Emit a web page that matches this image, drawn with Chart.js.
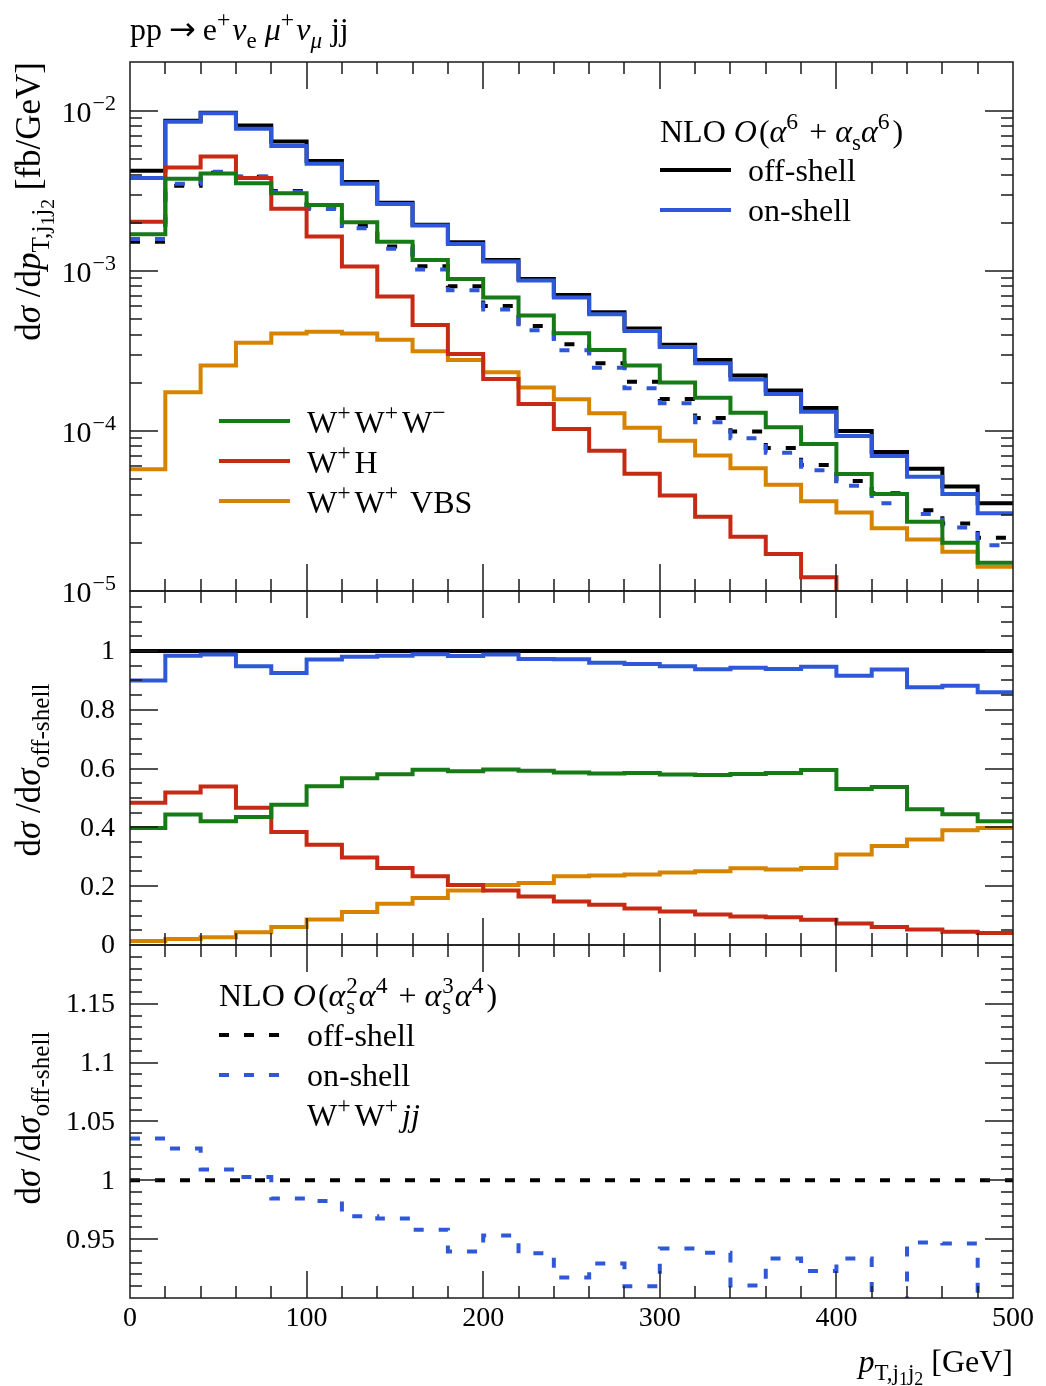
<!DOCTYPE html>
<html><head><meta charset="utf-8">
<script src="https://cdn.jsdelivr.net/npm/chart.js@4.4.1/dist/chart.umd.min.js"></script>
<style>
html,body{margin:0;padding:0;background:#fff;}
#wrap{position:relative;width:1046px;height:1386px;overflow:hidden;background:#fff;}
canvas{position:absolute;left:0;}
</style></head><body>
<div id="wrap">
<canvas id="cA" width="1046" height="615" style="top:0px"></canvas>
<canvas id="cB" width="1046" height="405" style="top:565px"></canvas>
<canvas id="cC" width="1046" height="466" style="top:920px"></canvas>
</div>
<script>
// ---------- data ----------
const binEdges = [0,20,40,60,80,100,120,140,160,180,200,220,240,260,280,300,320,340,360,380,400,420,440,460,480,500];

// top panel: dsigma/dpT [fb/GeV], NLO O(a^6 + as a^6)
const offShell = [4.22e-3,8.66e-3,9.72e-3,8.09e-3,6.43e-3,4.87e-3,3.60e-3,2.67e-3,1.94e-3,1.51e-3,1.172e-3,8.91e-4,7.08e-4,5.52e-4,4.36e-4,3.46e-4,2.78e-4,2.22e-4,1.79e-4,1.39e-4,1.00e-4,7.39e-5,5.81e-5,4.49e-5,3.53e-5];
const onShell  = [3.81e-3,8.54e-3,9.67e-3,7.72e-3,6.04e-3,4.67e-3,3.50e-3,2.62e-3,1.92e-3,1.475e-3,1.143e-3,8.70e-4,6.81e-4,5.36e-4,4.22e-4,3.35e-4,2.65e-4,2.10e-4,1.70e-4,1.32e-4,9.31e-5,6.98e-5,5.18e-5,4.04e-5,3.06e-5];
const wwwVals  = [1.696e-3,3.76e-3,4.06e-3,3.53e-3,3.06e-3,2.58e-3,2.015e-3,1.524e-3,1.168e-3,8.91e-4,6.81e-4,5.26e-4,4.08e-4,3.21e-4,2.56e-4,2.01e-4,1.614e-4,1.30e-4,1.054e-4,8.29e-5,5.38e-5,4.04e-5,2.71e-5,2.00e-5,1.50e-5];
const whVals   = [2.03e-3,4.42e-3,5.18e-3,3.80e-3,2.45e-3,1.639e-3,1.064e-3,6.91e-4,4.60e-4,3.03e-4,2.11e-4,1.475e-4,1.029e-4,7.53e-5,5.41e-5,3.95e-5,2.91e-5,2.18e-5,1.70e-5,1.22e-5,7.3e-6,4.5e-6,3.1e-6,2.0e-6,1.45e-6];
const vbsVals  = [5.77e-5,1.746e-4,2.56e-4,3.56e-4,4.06e-4,4.16e-4,4.06e-4,3.71e-4,3.15e-4,2.78e-4,2.33e-4,1.866e-4,1.579e-4,1.29e-4,1.049e-4,8.70e-5,7.03e-5,5.85e-5,4.62e-5,3.64e-5,3.09e-5,2.47e-5,2.10e-5,1.76e-5,1.42e-5];
// NLO O(as^2 a^4 + as^3 a^4), W+W+jj
const qcdOff   = [1.524e-3,3.40e-3,4.11e-3,3.87e-3,3.16e-3,2.49e-3,1.91e-3,1.419e-3,1.069e-3,8.02e-4,6.04e-4,4.53e-4,3.48e-4,2.65e-4,2.03e-4,1.585e-4,1.205e-4,9.91e-5,7.83e-5,6.13e-5,4.87e-5,4.08e-5,3.19e-5,2.64e-5,2.15e-5];
const qcdOn    = [1.585e-3,3.50e-3,4.16e-3,3.89e-3,3.12e-3,2.44e-3,1.85e-3,1.378e-3,1.019e-3,7.57e-4,5.73e-4,4.26e-4,3.19e-4,2.48e-4,1.85e-4,1.49e-4,1.133e-4,9.0e-5,7.32e-5,5.68e-5,4.55e-5,3.53e-5,3.03e-5,2.49e-5,1.93e-5];

// middle panel: ratios to off-shell (EW)
const ratioOff = [1,1,1,1,1,1,1,1,1,1,1,1,1,1,1,1,1,1,1,1,1,1,1,1,1];
const ratioOn  = [0.900,0.984,0.988,0.948,0.925,0.971,0.980,0.984,0.989,0.983,0.988,0.973,0.972,0.960,0.956,0.948,0.938,0.943,0.939,0.946,0.916,0.937,0.877,0.882,0.860];
const ratioWWW = [0.398,0.444,0.421,0.435,0.477,0.540,0.567,0.581,0.596,0.591,0.597,0.593,0.587,0.583,0.585,0.580,0.578,0.582,0.585,0.595,0.531,0.537,0.462,0.445,0.421];
const ratioWH  = [0.484,0.519,0.539,0.467,0.384,0.341,0.298,0.262,0.234,0.204,0.185,0.165,0.148,0.137,0.124,0.114,0.104,0.097,0.094,0.086,0.073,0.061,0.053,0.045,0.041];
const ratioVBS = [0.014,0.020,0.026,0.043,0.061,0.087,0.112,0.140,0.160,0.185,0.204,0.211,0.234,0.236,0.240,0.247,0.251,0.261,0.257,0.262,0.308,0.337,0.359,0.390,0.398];

// bottom panel: ratios to off-shell (QCD)
const qcdRatioOff = [1,1,1,1,1,1,1,1,1,1,1,1,1,1,1,1,1,1,1,1,1,1,1,1,1];
const qcdRatioOn  = [1.0356,1.0271,1.0093,1.0028,0.9845,0.9825,0.9695,0.9675,0.958,0.9396,0.9531,0.938,0.9175,0.9294,0.9099,0.9421,0.9384,0.9107,0.9336,0.9229,0.9336,0.865,0.9472,0.9463,0.895];

// tick labels
const xTickValues = [0,100,200,300,400,500];
const xTickLabels = ['0','100','200','300','400','500'];
const topTickValues = [1e-5,1e-4,1e-3,1e-2];
const topTickExps = ['−5','−4','−3','−2'];
const midTickValues = [0,0.2,0.4,0.6,0.8,1];
const midTickLabels = ['0','0.2','0.4','0.6','0.8','1'];
const botTickValues = [0.95,1,1.05,1.1,1.15];
const botTickLabels = ['0.95','1','1.05','1.1','1.15'];

// ---------- styling ----------
const SERIF = '"Liberation Serif","DejaVu Serif",serif';
const C_BLACK = '#000000', C_BLUE = '#2f58d8', C_GREEN = '#167a16', C_RED = '#c62a14', C_ORANGE = '#d68400';
const LW = 4;
const DASH = [10,15];

function stepPoints(vals){
  return binEdges.map((x,i)=>({x:x, y: vals[Math.min(i, vals.length-1)]}));
}
function ds(vals, color, dashed, order){
  return {data: stepPoints(vals), borderColor: color, borderWidth: LW, borderDash: dashed?DASH:[],
    borderCapStyle:'butt', borderJoinStyle:'miter', stepped:'before', pointRadius:0, fill:false, order:order, clip:0};
}

function fnt(size, it, fam){ return (it?'italic ':'') + size + 'px ' + (fam||SERIF); }
function drawRich(ctx, parts, x, y, size, align){
  const items=[]; let cx=0;
  for(const p of parts){
    if(p.ss){
      const fs=size*0.72; ctx.font=fnt(fs,false);
      const w1=ctx.measureText(p.sub).width, w2=ctx.measureText(p.sup).width;
      items.push({t:p.sub,x:cx+1,dy:size*0.25,fs:fs,i:false});
      items.push({t:p.sup,x:cx+1,dy:-size*0.40,fs:fs,i:false});
      cx+=Math.max(w1,w2)+2; continue;
    }
    let fs=size, dy=0;
    if(p.s===1){fs=size*0.74; dy=-size*0.40;}
    else if(p.s===-1){fs=size*0.72; dy=size*0.25;}
    else if(p.s===-2){fs=size*0.56; dy=size*0.40;}
    ctx.font=fnt(fs,p.i,p.f);
    items.push({t:p.t,x:cx+(p.pre||0),dy:dy,fs:fs,i:p.i,f:p.f});
    cx+=ctx.measureText(p.t).width+(p.pre||0)+(p.k||0);
  }
  const ox = align==='right'? x-cx : (align==='center'? x-cx/2 : x);
  ctx.textAlign='left'; ctx.textBaseline='alphabetic'; ctx.fillStyle='#000';
  for(const it of items){ ctx.font=fnt(it.fs,it.i,it.f); ctx.fillText(it.t, ox+it.x, y+it.dy); }
  return cx;
}
function drawRotated(ctx, parts, x, y, size, align){
  ctx.save(); ctx.translate(x,y); ctx.rotate(-Math.PI/2); drawRich(ctx, parts, 0, 0, size, align); ctx.restore();
}
function legendLine(ctx, x1, x2, y, color, dashed){
  ctx.save(); ctx.strokeStyle=color; ctx.lineWidth=LW; ctx.lineCap='butt';
  ctx.setLineDash(dashed?DASH:[]); ctx.beginPath(); ctx.moveTo(x1,y); ctx.lineTo(x2,y); ctx.stroke(); ctx.restore();
}
function yLabels(chart, values, labels){
  const ctx=chart.ctx, y=chart.scales.y;
  ctx.save(); ctx.fillStyle='#000'; ctx.font=fnt(28,false); ctx.textAlign='right'; ctx.textBaseline='middle';
  values.forEach((v,i)=>ctx.fillText(labels[i], 115, y.getPixelForValue(v)+1));
  ctx.restore();
}

function frameTicks(chart, yMajor, yMinor){
  const {ctx, chartArea:a, scales} = chart; const x=scales.x, y=scales.y;
  ctx.save(); ctx.strokeStyle='#1a1a1a'; ctx.lineWidth=1.5; ctx.setLineDash([]);
  ctx.beginPath();
  for(let v=20; v<500; v+=20){
    const px=Math.round(x.getPixelForValue(v));
    const L = (v%100===0)?27:12;
    ctx.moveTo(px,a.top); ctx.lineTo(px,a.top+L);
    ctx.moveTo(px,a.bottom); ctx.lineTo(px,a.bottom-L);
  }
  for(const v of yMajor){ const py=Math.round(y.getPixelForValue(v));
    if(py<=a.top+1||py>=a.bottom-1) continue;
    ctx.moveTo(a.left,py); ctx.lineTo(a.left+28,py); ctx.moveTo(a.right,py); ctx.lineTo(a.right-28,py); }
  for(const v of yMinor){ const py=Math.round(y.getPixelForValue(v));
    if(py<=a.top+1||py>=a.bottom-1) continue;
    ctx.moveTo(a.left,py); ctx.lineTo(a.left+12,py); ctx.moveTo(a.right,py); ctx.lineTo(a.right-12,py); }
  ctx.stroke();
  ctx.strokeRect(a.left, a.top, a.right-a.left, a.bottom-a.top);
  ctx.restore();
}

const xScaleHidden = {type:'linear', min:0, max:500, display:false};
function yAxisCommon(extra){
  return Object.assign({afterFit:(s)=>{s.width=130;}, grid:{display:false, drawTicks:false}, border:{display:false}, ticks:{display:false}}, extra);
}
const baseOpts = {responsive:false, animation:false, events:[], plugins:{legend:{display:false}, tooltip:{enabled:false}}};
const SANS = '"DejaVu Sans",sans-serif';

// ---------- top panel ----------
const logMinor=[]; for(let d=-5; d<=-2; d++){ for(let m=2;m<=9;m++){ logMinor.push(m*Math.pow(10,d)); } }
new Chart(document.getElementById('cA'), {
  type:'line',
  data:{datasets:[
    ds(offShell, C_BLACK, false, 9),
    ds(onShell, C_BLUE, false, 8),
    ds(qcdOff, C_BLACK, true, 7),
    ds(qcdOn, C_BLUE, true, 6),
    ds(vbsVals, C_ORANGE, false, 5),
    ds(whVals, C_RED, false, 4),
    ds(wwwVals, C_GREEN, false, 3)
  ]},
  options:Object.assign({}, baseOpts, {
    layout:{padding:{left:0, right:33, top:62, bottom:24}},
    scales:{ x: xScaleHidden, y: yAxisCommon({type:'logarithmic', min:1e-5, max:0.0202}) }
  }),
  plugins:[{id:'decoA',
    afterDatasetsDraw(chart){ frameTicks(chart, topTickValues, logMinor); },
    afterDraw(chart){
      const ctx=chart.ctx, y=chart.scales.y;
      topTickValues.forEach((v,i)=>{
        const py=y.getPixelForValue(v);
        ctx.save(); ctx.fillStyle='#000'; ctx.textBaseline='alphabetic';
        ctx.font=fnt(22,false); ctx.textAlign='right';
        const ew=ctx.measureText(topTickExps[i]).width;
        ctx.fillText(topTickExps[i], 116, py-1);
        ctx.font=fnt(30,false); ctx.fillText('10', 116-ew-1, py+11);
        ctx.restore();
      });
      // title
      drawRich(ctx,[{t:'pp'},{t:'→',f:SANS,pre:7,k:7},{t:'e'},{t:'+',s:1,k:2},{t:'ν',i:1},{t:'e',s:-1,k:8},{t:'μ',i:1},{t:'+',s:1,k:2},{t:'ν',i:1},{t:'μ',s:-1,i:1,k:9},{t:'jj'}],130,40,32,'left');
      // y title
      drawRotated(ctx,[{t:'d'},{t:'σ',i:1},{t:' /d'},{t:'p',i:1},{t:'T,j',s:-1},{t:'1',s:-2},{t:'j',s:-1},{t:'2',s:-2},{t:' [fb/GeV]'}],40,62,35,'right');
      // legend (upper right)
      drawRich(ctx,[{t:'NLO '},{t:'O',i:1,k:2},{t:'('},{t:'α',i:1},{t:'6',s:1,k:3},{t:' + '},{t:'α',i:1},{t:'s',s:-1},{t:'α',i:1},{t:'6',s:1,k:3},{t:')'}],660,142,32,'left');
      legendLine(ctx,660,731,170,C_BLACK,false); drawRich(ctx,[{t:'off-shell'}],748,181,32,'left');
      legendLine(ctx,660,731,210,C_BLUE,false);  drawRich(ctx,[{t:'on-shell'}],748,221,32,'left');
      // legend (lower left)
      legendLine(ctx,219,290,421,C_GREEN,false); drawRich(ctx,[{t:'W'},{t:'+',s:1,k:4},{t:'W'},{t:'+',s:1,k:4},{t:'W'},{t:'−',s:1}],307,433,32,'left');
      legendLine(ctx,219,290,461,C_RED,false);   drawRich(ctx,[{t:'W'},{t:'+',s:1,k:4},{t:'H'}],307,473,32,'left');
      legendLine(ctx,219,290,501,C_ORANGE,false);drawRich(ctx,[{t:'W'},{t:'+',s:1,k:4},{t:'W'},{t:'+',s:1,k:4},{t:' VBS'}],307,513,32,'left');
    }
  }]
});

// ---------- middle panel ----------
const midMinor=[]; for(let v=0.05; v<1.2; v+=0.05){ midMinor.push(+v.toFixed(2)); }
new Chart(document.getElementById('cB'), {
  type:'line',
  data:{datasets:[
    ds(ratioOff, C_BLACK, false, 9),
    ds(ratioOn, C_BLUE, false, 8),
    ds(ratioVBS, C_ORANGE, false, 5),
    ds(ratioWH, C_RED, false, 4),
    ds(ratioWWW, C_GREEN, false, 3)
  ]},
  options:Object.assign({}, baseOpts, {
    layout:{padding:{left:0, right:33, top:26, bottom:25}},
    scales:{ x: xScaleHidden, y: yAxisCommon({type:'linear', min:0, max:1.204}) }
  }),
  plugins:[{id:'decoB',
    afterDatasetsDraw(chart){ frameTicks(chart, midTickValues, midMinor); },
    afterDraw(chart){
      yLabels(chart, midTickValues, midTickLabels);
      drawRotated(chart.ctx,[{t:'d'},{t:'σ',i:1},{t:' /d'},{t:'σ',i:1},{t:'off-shell',s:-1}],40,770-565,35,'center');
    }
  }]
});

// ---------- bottom panel ----------
const botMinor=[]; for(let v=0.91; v<1.2; v+=0.01){ botMinor.push(+v.toFixed(2)); }
new Chart(document.getElementById('cC'), {
  type:'line',
  data:{datasets:[
    ds(qcdRatioOff, C_BLACK, true, 9),
    ds(qcdRatioOn, C_BLUE, true, 8)
  ]},
  options:Object.assign({}, baseOpts, {
    layout:{padding:{left:0, right:33, top:25, bottom:88}},
    scales:{ x: xScaleHidden, y: yAxisCommon({type:'linear', min:0.9, max:1.2}) }
  }),
  plugins:[{id:'decoC',
    afterDatasetsDraw(chart){ frameTicks(chart, botTickValues, botMinor); },
    afterDraw(chart){
      const ctx=chart.ctx, off=920, x=chart.scales.x, a=chart.chartArea;
      yLabels(chart, botTickValues, botTickLabels);
      ctx.save(); ctx.fillStyle='#000'; ctx.font=fnt(28,false); ctx.textAlign='center'; ctx.textBaseline='alphabetic';
      xTickValues.forEach((v,i)=>ctx.fillText(xTickLabels[i], x.getPixelForValue(v), a.bottom+28));
      ctx.restore();
      drawRotated(ctx,[{t:'d'},{t:'σ',i:1},{t:' /d'},{t:'σ',i:1},{t:'off-shell',s:-1}],40,1118-off,35,'center');
      drawRich(ctx,[{t:'p',i:1},{t:'T,j',s:-1},{t:'1',s:-2},{t:'j',s:-1},{t:'2',s:-2},{t:' [GeV]'}],1013,1372-off,32,'right');
      drawRich(ctx,[{t:'NLO '},{t:'O',i:1,k:2},{t:'('},{t:'α',i:1},{ss:1,sub:'s',sup:'2'},{t:'α',i:1},{t:'4',s:1,k:3},{t:' + '},{t:'α',i:1},{ss:1,sub:'s',sup:'3'},{t:'α',i:1},{t:'4',s:1,k:3},{t:')'}],219,1006-off,32,'left');
      legendLine(ctx,219,290,1035-off,C_BLACK,true); drawRich(ctx,[{t:'off-shell'}],307,1046-off,32,'left');
      legendLine(ctx,219,290,1075-off,C_BLUE,true);  drawRich(ctx,[{t:'on-shell'}],307,1086-off,32,'left');
      drawRich(ctx,[{t:'W'},{t:'+',s:1,k:4},{t:'W'},{t:'+',s:1,k:4},{t:'jj',i:1}],307,1126-off,32,'left');
    }
  }]
});
</script>
</body></html>
